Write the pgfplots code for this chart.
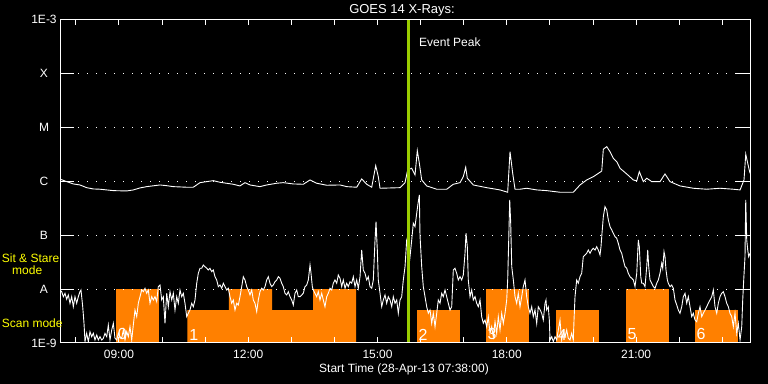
\documentclass[border=0pt]{standalone}
\usepackage{fontspec}
\setmainfont{Liberation Sans}
\usepackage{pgfplots}
\pgfplotsset{compat=1.18}
\definecolor{scanorange}{RGB}{255,128,0}
\definecolor{peakgreen}{RGB}{154,205,0}
\definecolor{modeyellow}{RGB}{255,255,0}
\begin{document}
\begin{tikzpicture}
\useasboundingbox (0,0) rectangle (768bp,384bp);
\fill[black] (0,0) rectangle (768bp,384bp);
\begin{axis}[
  at={(60bp,41bp)}, anchor=south west,
  scale only axis, width=690bp, height=323.5bp,
  xmin=7.633, xmax=23.642, ymin=-9, ymax=-3,
  axis on top,
  axis line style={white, line width=1bp},
  xtick={8,...,23},
  xticklabels={,09:00,,,12:00,,,15:00,,,18:00,,,21:00,,},
  ytick={-9,...,-3},
  yticklabels={1E-9,A,B,C,M,X,1E-3},
  tick align=inside,
  tick style={white, line width=1bp},
  xtick style={/pgfplots/major tick length=6bp},
  ytick style={/pgfplots/major tick length=14bp},
  xticklabel style={white, font=\fontsize{12bp}{14bp}\selectfont, anchor=base, yshift=-16bp},
  yticklabel style={white, font=\fontsize{12bp}{14bp}\selectfont, anchor=center, xshift=-16bp},
  ymajorgrids,
  major grid style={white, line width=1bp, dash pattern=on 1bp off 8bp},
]
% observing-mode blocks
\addplot[fill=scanorange, draw=none] coordinates {(8.932,-9) (8.932,-8) (9.930,-8) (9.930,-9)} -- cycle;
\addplot[fill=scanorange, draw=none] coordinates {(10.587,-9) (10.587,-8.39) (11.554,-8.39) (11.554,-8) (12.552,-8) (12.552,-8.39) (13.503,-8.39) (13.503,-8) (14.501,-8) (14.501,-9)} -- cycle;
\addplot[fill=scanorange, draw=none] coordinates {(15.916,-9) (15.916,-8.39) (16.914,-8.39) (16.914,-9)} -- cycle;
\addplot[fill=scanorange, draw=none] coordinates {(17.517,-9) (17.517,-8) (18.515,-8) (18.515,-9)} -- cycle;
\addplot[fill=scanorange, draw=none] coordinates {(19.141,-9) (19.141,-8.39) (20.139,-8.39) (20.139,-9)} -- cycle;
\addplot[fill=scanorange, draw=none] coordinates {(20.765,-9) (20.765,-8) (21.763,-8) (21.763,-9)} -- cycle;
\addplot[fill=scanorange, draw=none] coordinates {(22.366,-9) (22.366,-8.39) (23.357,-8.39) (23.357,-9)} -- cycle;
\begin{scope}[every node/.style={white, anchor=south west, inner sep=0pt, font=\fontsize{16bp}{18bp}\selectfont}]
\node at (axis cs:8.97,-8.95) {0};
\node at (axis cs:10.63,-8.95) {1};
\node at (axis cs:15.95,-8.95) {2};
\node at (axis cs:17.55,-8.95) {3};
\node at (axis cs:19.18,-8.95) {4};
\node at (axis cs:20.80,-8.95) {5};
\node at (axis cs:22.40,-8.95) {6};
\end{scope}
% long channel
\addplot[white, line width=0.9bp] coordinates {
(7.633,-5.967) (7.656,-5.967) (7.788,-6.007) (7.942,-6.050) (8.097,-6.069) (8.252,-6.119) (8.406,-6.143) (8.561,-6.148) (8.870,-6.174) (9.181,-6.180) (9.334,-6.161) (9.489,-6.124) (9.645,-6.100) (9.953,-6.069) (10.109,-6.082) (10.262,-6.100) (10.573,-6.111) (10.726,-6.111) (10.881,-6.026) (11.037,-6.007) (11.190,-5.989) (11.345,-6.019) (11.654,-6.056) (11.809,-6.087) (11.925,-6.026) (12.041,-6.069) (12.273,-6.100) (12.429,-6.069) (12.661,-6.037) (12.814,-6.026) (13.046,-6.050) (13.278,-6.056) (13.434,-5.976) (13.589,-6.037) (13.821,-6.074) (14.130,-6.069) (14.285,-6.100) (14.517,-6.111) (14.633,-5.957) (14.749,-6.056) (14.865,-6.111) (14.958,-5.711) (15.018,-5.915) (15.058,-6.130) (15.522,-6.119) (15.638,-6.026) (15.700,-5.790) (15.793,-5.759) (15.870,-5.883) (15.923,-5.432) (15.970,-5.666) (16.025,-5.976) (16.141,-6.087) (16.373,-6.148) (16.605,-6.148) (16.758,-6.056) (16.914,-6.026) (16.990,-5.915) (17.046,-5.740) (17.083,-5.944) (17.222,-6.069) (17.533,-6.119) (17.842,-6.161) (18.020,-6.204) (18.074,-5.451) (18.136,-5.852) (18.190,-6.148) (18.306,-6.148) (18.461,-6.130) (18.693,-6.161) (18.925,-6.174) (19.234,-6.204) (19.542,-6.204) (19.698,-6.069) (19.853,-5.976) (20.007,-5.915) (20.162,-5.833) (20.202,-5.809) (20.239,-5.406) (20.318,-5.358) (20.394,-5.451) (20.471,-5.573) (20.549,-5.636) (20.626,-5.759) (20.782,-5.865) (20.935,-5.976) (21.014,-5.994) (21.074,-5.822) (21.167,-6.007) (21.246,-5.944) (21.362,-6.007) (21.554,-6.007) (21.670,-5.865) (21.786,-6.007) (22.018,-6.087) (22.327,-6.130) (22.638,-6.148) (22.946,-6.130) (23.255,-6.148) (23.411,-6.161) (23.503,-5.976) (23.543,-5.499) (23.589,-5.666) (23.642,-5.852)
};
% short channel
\addplot[white, line width=0.9bp] coordinates {
(7.633,-8.02) (7.672,-8.048) (7.710,-8.141) (7.749,-8.078) (7.788,-8.189) (7.826,-8.109) (7.865,-8.263) (7.904,-8.141) (7.942,-8.327) (7.981,-8.141) (8.020,-8.263) (8.058,-8.141) (8.097,-8.048) (8.120,-8.017) (8.160,-8.327) (8.190,-8.635) (8.213,-8.976) (8.252,-8.820) (8.290,-8.976) (8.329,-8.790) (8.368,-8.883) (8.406,-8.820) (8.445,-8.944) (8.485,-8.852) (8.522,-8.944) (8.561,-8.883) (8.601,-8.944) (8.638,-8.913) (8.677,-8.820) (8.717,-8.883) (8.754,-8.666) (8.793,-8.944) (8.833,-8.759) (8.870,-8.635) (8.909,-8.913) (8.949,-8.944) (8.986,-8.820) (9.025,-8.883) (9.065,-8.913) (9.102,-8.759) (9.141,-8.944) (9.181,-8.790) (9.218,-8.883) (9.257,-8.698) (9.297,-8.944) (9.334,-8.666) (9.373,-8.388) (9.413,-8.512) (9.450,-8.263) (9.489,-8.141) (9.529,-8.017) (9.566,-8.048) (9.605,-7.985) (9.645,-8.078) (9.682,-8.017) (9.721,-8.263) (9.761,-8.141) (9.798,-8.202) (9.837,-8.141) (9.877,-8.234) (9.914,-7.955) (9.953,-7.924) (9.993,-8.202) (10.030,-8.141) (10.069,-8.635) (10.109,-8.078) (10.146,-8.327) (10.185,-8.048) (10.225,-8.202) (10.262,-8.078) (10.301,-8.388) (10.341,-8.141) (10.378,-8.263)
(10.417,-8.017) (10.457,-8.141) (10.494,-8.078) (10.533,-8.263) (10.573,-8.512) (10.610,-8.449) (10.649,-8.388) (10.689,-8.263) (10.726,-8.327) (10.765,-8.202) (10.805,-7.892) (10.842,-7.707) (10.881,-7.614) (10.921,-7.614) (10.958,-7.553) (10.997,-7.584) (11.037,-7.614) (11.074,-7.646) (11.113,-7.614) (11.153,-7.677) (11.190,-7.646) (11.229,-7.770) (11.269,-7.831) (11.306,-7.955) (11.345,-7.924) (11.385,-7.985) (11.422,-7.892) (11.461,-7.955) (11.501,-8.017) (11.538,-7.985) (11.577,-8.141) (11.617,-8.263) (11.654,-8.202) (11.693,-8.388) (11.733,-8.263) (11.770,-8.295) (11.809,-8.141) (11.849,-7.955) (11.886,-7.770) (11.925,-7.831) (11.965,-7.955) (12.002,-8.017) (12.041,-8.109) (12.081,-8.017) (12.118,-8.202) (12.157,-8.263) (12.197,-8.419) (12.234,-8.202) (12.273,-8.048) (12.313,-7.985) (12.350,-8.017) (12.389,-7.955) (12.429,-7.831) (12.466,-7.770) (12.505,-7.892) (12.545,-7.955) (12.582,-7.924) (12.621,-7.863) (12.661,-7.831) (12.698,-7.770) (12.737,-7.800) (12.777,-7.892) (12.814,-7.955) (12.853,-8.078) (12.893,-8.109) (12.930,-8.048) (12.969,-8.141) (13.009,-8.202) (13.046,-8.295) (13.085,-8.078) (13.125,-8.017) (13.162,-8.141)
(13.201,-8.141) (13.241,-8.109) (13.278,-8.078) (13.317,-7.955) (13.357,-7.924) (13.394,-7.831) (13.434,-7.553) (13.457,-7.707) (13.487,-7.955) (13.510,-8.017) (13.549,-8.078) (13.589,-8.141) (13.626,-8.048) (13.665,-8.202) (13.705,-8.078) (13.742,-8.202) (13.781,-8.327) (13.821,-8.141) (13.858,-8.078) (13.897,-7.985) (13.937,-8.017) (13.974,-7.892) (14.013,-7.831) (14.053,-7.892) (14.090,-7.738) (14.130,-7.800) (14.169,-7.955) (14.206,-7.831) (14.246,-7.985) (14.285,-7.892) (14.322,-7.955) (14.362,-7.863) (14.401,-7.892) (14.438,-7.770) (14.478,-7.955) (14.517,-7.831) (14.554,-7.985) (14.594,-7.770) (14.633,-7.275) (14.670,-7.646) (14.710,-7.707) (14.749,-7.831) (14.786,-7.770) (14.826,-7.955) (14.865,-7.985) (14.902,-7.831) (14.942,-7.089) (14.965,-6.750) (14.995,-7.275) (15.018,-7.831) (15.058,-8.078) (15.097,-8.327) (15.134,-8.202) (15.174,-8.109) (15.213,-8.263) (15.250,-8.141) (15.290,-8.202) (15.329,-8.327) (15.366,-8.141) (15.406,-8.263) (15.445,-8.202) (15.482,-8.449) (15.522,-8.202) (15.561,-8.141) (15.598,-7.831) (15.638,-7.584) (15.677,-7.089) (15.700,-7.028) (15.754,-7.399) (15.793,-7.089) (15.830,-6.779) (15.870,-6.842) (15.909,-6.594) (15.946,-6.378) (15.970,-6.254)
(15.985,-6.996) (16.025,-7.584) (16.062,-7.955) (16.102,-8.141) (16.141,-8.327) (16.178,-8.449) (16.218,-8.388) (16.257,-8.635) (16.294,-8.449) (16.334,-8.698) (16.373,-8.449) (16.410,-8.202) (16.450,-8.263) (16.489,-8.078) (16.526,-8.141) (16.566,-8.017) (16.605,-8.141) (16.642,-8.263) (16.682,-8.388) (16.721,-8.327) (16.758,-7.646) (16.798,-7.614) (16.837,-7.707) (16.874,-7.831) (16.914,-7.770) (16.953,-7.831) (16.990,-7.738) (17.030,-7.336) (17.053,-6.965) (17.083,-7.213) (17.106,-7.831) (17.146,-8.141) (17.185,-8.017) (17.222,-8.202) (17.262,-8.141) (17.301,-8.263) (17.338,-8.327) (17.378,-8.202) (17.417,-8.512) (17.454,-8.635) (17.494,-8.573) (17.533,-8.698) (17.570,-8.512) (17.610,-8.820) (17.649,-8.698) (17.686,-8.883) (17.726,-8.605) (17.765,-8.820) (17.802,-8.512) (17.842,-8.759) (17.881,-8.449) (17.918,-8.635) (17.958,-8.449) (17.997,-8.202) (18.020,-7.831) (18.044,-7.089) (18.067,-6.347) (18.090,-6.779) (18.114,-7.584) (18.151,-7.831) (18.190,-8.141) (18.229,-8.263) (18.266,-8.078) (18.306,-8.327) (18.345,-8.141) (18.382,-7.955) (18.422,-7.831) (18.461,-8.141) (18.498,-8.327) (18.538,-8.449) (18.577,-8.327) (18.614,-8.512) (18.654,-8.388) (18.693,-8.635) (18.730,-8.327)
(18.770,-8.380) (18.809,-8.449) (18.846,-8.573) (18.886,-8.263) (18.909,-8.202) (18.925,-8.388) (18.962,-8.327) (18.986,-8.573) (19.002,-8.944) (19.041,-8.883) (19.078,-8.976) (19.118,-8.883) (19.157,-8.944) (19.194,-8.759) (19.234,-8.573) (19.257,-8.820) (19.273,-8.944) (19.310,-8.790) (19.350,-8.883) (19.389,-8.759) (19.426,-8.913) (19.466,-8.944) (19.505,-8.820) (19.542,-8.944) (19.559,-8.573) (19.582,-8.141) (19.605,-7.955) (19.621,-7.831) (19.658,-7.892) (19.698,-7.770) (19.737,-7.707) (19.774,-7.399) (19.814,-7.367) (19.853,-7.336) (19.890,-7.275) (19.930,-7.336) (19.969,-7.275) (20.007,-7.243) (20.046,-7.275) (20.085,-7.213) (20.122,-7.275) (20.162,-7.367) (20.185,-7.213) (20.208,-6.965) (20.239,-6.657) (20.278,-6.471) (20.318,-6.532) (20.355,-6.718) (20.394,-6.842) (20.434,-6.903) (20.471,-6.965) (20.510,-7.028) (20.549,-7.057) (20.586,-7.150) (20.626,-7.275) (20.665,-7.336) (20.702,-7.460) (20.742,-7.584) (20.782,-7.614) (20.818,-7.707) (20.858,-7.770) (20.897,-7.800) (20.935,-7.831) (20.974,-7.955) (21.014,-7.707) (21.051,-7.089) (21.074,-7.213) (21.107,-7.770) (21.130,-7.892) (21.167,-7.892) (21.206,-7.955) (21.246,-7.584) (21.269,-7.275) (21.292,-7.584) (21.322,-7.831)
(21.362,-7.892) (21.399,-7.955) (21.438,-7.985) (21.478,-7.892) (21.515,-7.831) (21.554,-7.707) (21.594,-7.521) (21.617,-7.614) (21.647,-7.306) (21.670,-7.399) (21.693,-7.646) (21.724,-7.831) (21.747,-7.892) (21.786,-7.955) (21.826,-7.924) (21.863,-7.985) (21.902,-8.202) (21.942,-8.295) (21.979,-8.388) (22.018,-8.449) (22.058,-8.327) (22.095,-8.141) (22.134,-8.078) (22.174,-8.263) (22.211,-8.141) (22.250,-8.327) (22.290,-8.512) (22.327,-8.449) (22.366,-8.573) (22.406,-8.605) (22.443,-8.449) (22.482,-8.327) (22.522,-8.512) (22.559,-8.449) (22.598,-8.388) (22.638,-8.327) (22.674,-8.263) (22.714,-8.202) (22.754,-8.141) (22.791,-8.017) (22.830,-8.327) (22.870,-8.449) (22.907,-8.263) (22.946,-8.141) (22.986,-8.078) (23.023,-8.048) (23.062,-8.141) (23.102,-8.263) (23.139,-8.327) (23.178,-8.449) (23.218,-8.512) (23.255,-8.698) (23.294,-8.449) (23.334,-8.820) (23.371,-8.635) (23.411,-8.944) (23.450,-8.698) (23.473,-8.202) (23.496,-7.831) (23.526,-7.399) (23.543,-6.347) (23.566,-7.089) (23.589,-7.275) (23.612,-7.399) (23.642,-7.336)
};
% event peak marker
\addplot[peakgreen, line width=2.2bp] coordinates {(15.72,-9) (15.72,-3)};
\end{axis}
\begin{scope}[every node/.style={inner sep=0pt, font=\fontsize{12bp}{14bp}\selectfont}]
\node[white, anchor=base, font=\fontsize{13bp}{15bp}\selectfont] at (402bp,370bp) {GOES 14 X-Rays:};
\node[white, anchor=base west] at (419bp,337.3bp) {Event Peak};
\node[white, anchor=base] at (404bp,11.7bp) {Start Time (28-Apr-13 07:38:00)};
\node[modeyellow, anchor=base west] at (1.7bp,121.3bp) {Sit \& Stare};
\node[modeyellow, anchor=base west] at (12bp,109.3bp) {mode};
\node[modeyellow, anchor=base west] at (1.7bp,56.7bp) {Scan mode};
\end{scope}
\end{tikzpicture}
\end{document}
